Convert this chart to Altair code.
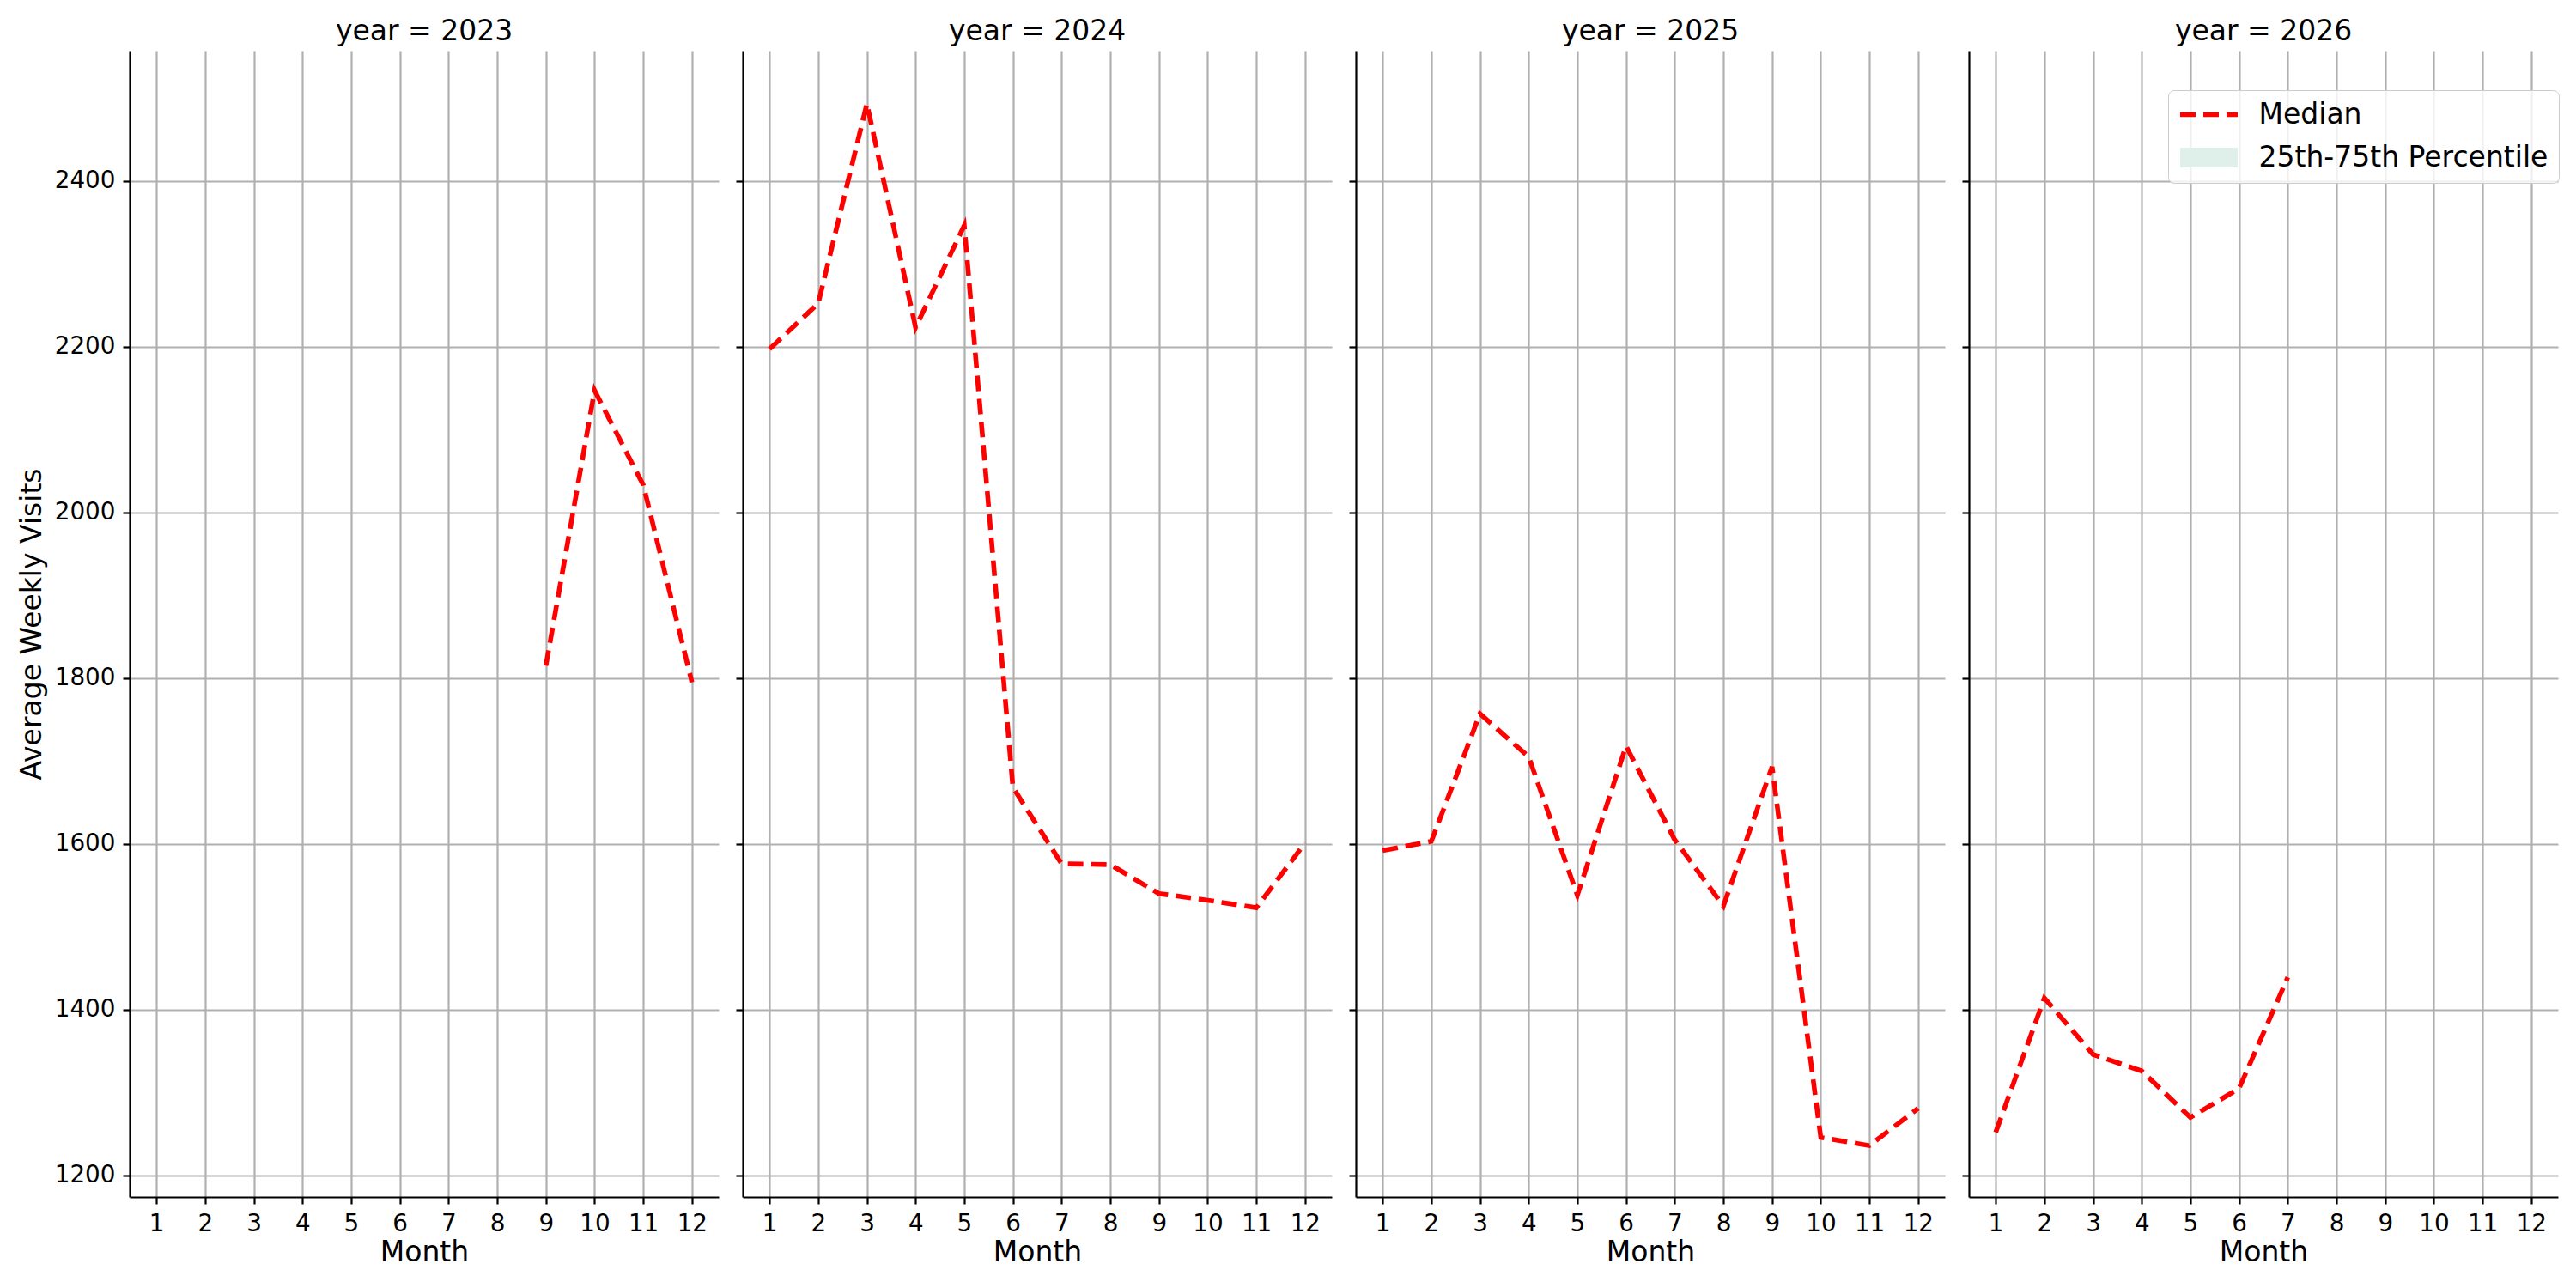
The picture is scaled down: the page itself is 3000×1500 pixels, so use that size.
import altair as alt
import pandas as pd

# ---- data ----
years = [2023, 2024, 2025, 2026]
months_2023 = [9, 10, 11, 12]
median_2023 = [1815, 2147, 2033, 1795]
months_2024 = [1, 2, 3, 4, 5, 6, 7, 8, 9, 10, 11, 12]
median_2024 = [2197, 2252, 2493, 2223, 2346, 1668, 1576, 1575, 1540, 1532, 1523, 1601]
months_2025 = [1, 2, 3, 4, 5, 6, 7, 8, 9, 10, 11, 12]
median_2025 = [1592, 1603, 1757, 1705, 1538, 1718, 1605, 1525, 1693, 1246, 1236, 1281]
months_2026 = [1, 2, 3, 4, 5, 6, 7]
median_2026 = [1252, 1414, 1346, 1326, 1270, 1305, 1439]

month_ticks = [1, 2, 3, 4, 5, 6, 7, 8, 9, 10, 11, 12]
y_ticks = [1200, 1400, 1600, 1800, 2000, 2200, 2400]
series_names = ["Median", "25th-75th Percentile"]

rows = []
for yr, ms, vs in [(2023, months_2023, median_2023), (2024, months_2024, median_2024),
                   (2025, months_2025, median_2025), (2026, months_2026, median_2026)]:
    for m, v in zip(ms, vs):
        # one observation per month: the 25th-75th band collapses onto the median
        rows.append({"year": yr, "month": m, "median": v, "q25": v, "q75": v, "series": "Median"})
df = pd.DataFrame(rows)

FONT = "DejaVu Sans"
W, H = 686, 1335
xscale = alt.Scale(domain=[0.45, 12.55], nice=False, zero=False)
yscale = alt.Scale(domain=[1174, 2557], nice=False, zero=False)
DASH = [18, 9]
LW = 5.6


def panel(yr, first, last):
    base = alt.Chart(df).transform_filter(alt.datum.year == yr)
    xaxis = alt.Axis(values=month_ticks, format="d", title="Month", labelFlush=False,
                     labelOverlap=False, labelPadding=9, titlePadding=4)
    if first:
        yaxis = alt.Axis(values=y_ticks, format="d", title="Average Weekly Visits",
                         labelPadding=9, titlePadding=9)
    else:
        yaxis = alt.Axis(values=y_ticks, format="d", title=None, labels=False)
    x = alt.X("month:Q", scale=xscale, axis=xaxis)

    band = base.mark_area(opacity=1).encode(
        x=x,
        y=alt.Y("q25:Q", scale=yscale, axis=yaxis),
        y2="q75:Q",
        color=alt.value("#dff0eb"),
    )
    if last:
        leg = alt.Legend(title=None, orient="none", legendX=232, legendY=46,
                         symbolType="stroke", symbolSize=4489, clipHeight=33,
                         symbolOffset=-9.5, labelOffset=13, padding=12, rowPadding=16,
                         labelFontSize=33, labelFont=FONT, labelColor="black", labelLimit=600,
                         fillColor="rgba(255,255,255,0.8)", strokeColor="#cccccc",
                         cornerRadius=7)
        enc = dict(
            color=alt.Color("series:N", scale=alt.Scale(domain=series_names, range=["#ff0000", "#dff0eb"]), legend=leg),
            strokeDash=alt.StrokeDash("series:N", scale=alt.Scale(domain=series_names, range=[DASH, [1, 0]]), legend=leg),
            strokeWidth=alt.StrokeWidth("series:N", scale=alt.Scale(type="ordinal", domain=series_names, range=[LW, 23]), legend=leg),
        )
    else:
        enc = dict(color=alt.value("#ff0000"), strokeDash=alt.value(DASH), strokeWidth=alt.value(LW))
    line = base.mark_line(strokeCap="butt").encode(
        x=x,
        y=alt.Y("median:Q", scale=yscale, axis=yaxis),
        **enc,
    )
    return alt.layer(band, line).properties(
        width=W, height=H,
        title=alt.TitleParams(f"year = {yr}", fontSize=33, fontWeight="normal", font=FONT,
                              color="black", anchor="middle", baseline="alphabetic", offset=-21),
    )


panels = [panel(yr, i == 0, i == len(years) - 1) for i, yr in enumerate(years)]

chart = alt.hconcat(*panels, spacing=28, bounds="flush").resolve_legend(
    color="independent", strokeDash="independent", strokeWidth="independent"
).properties(
    padding={"left": 13, "top": 13, "right": 5, "bottom": 5}
).configure(font=FONT).configure_view(strokeWidth=0).configure_axis(
    domainColor="black", domainWidth=2.2, tickColor="black", tickWidth=2.2, tickSize=8,
    gridColor="#b0b0b0", gridWidth=2.2, gridOpacity=1,
    labelFontSize=27.8, labelColor="black", labelFont=FONT,
    titleFontSize=33, titleFontWeight="normal", titleColor="black", titleFont=FONT,
)

chart.save("out.html", embed_options={"renderer": "svg", "actions": False})
